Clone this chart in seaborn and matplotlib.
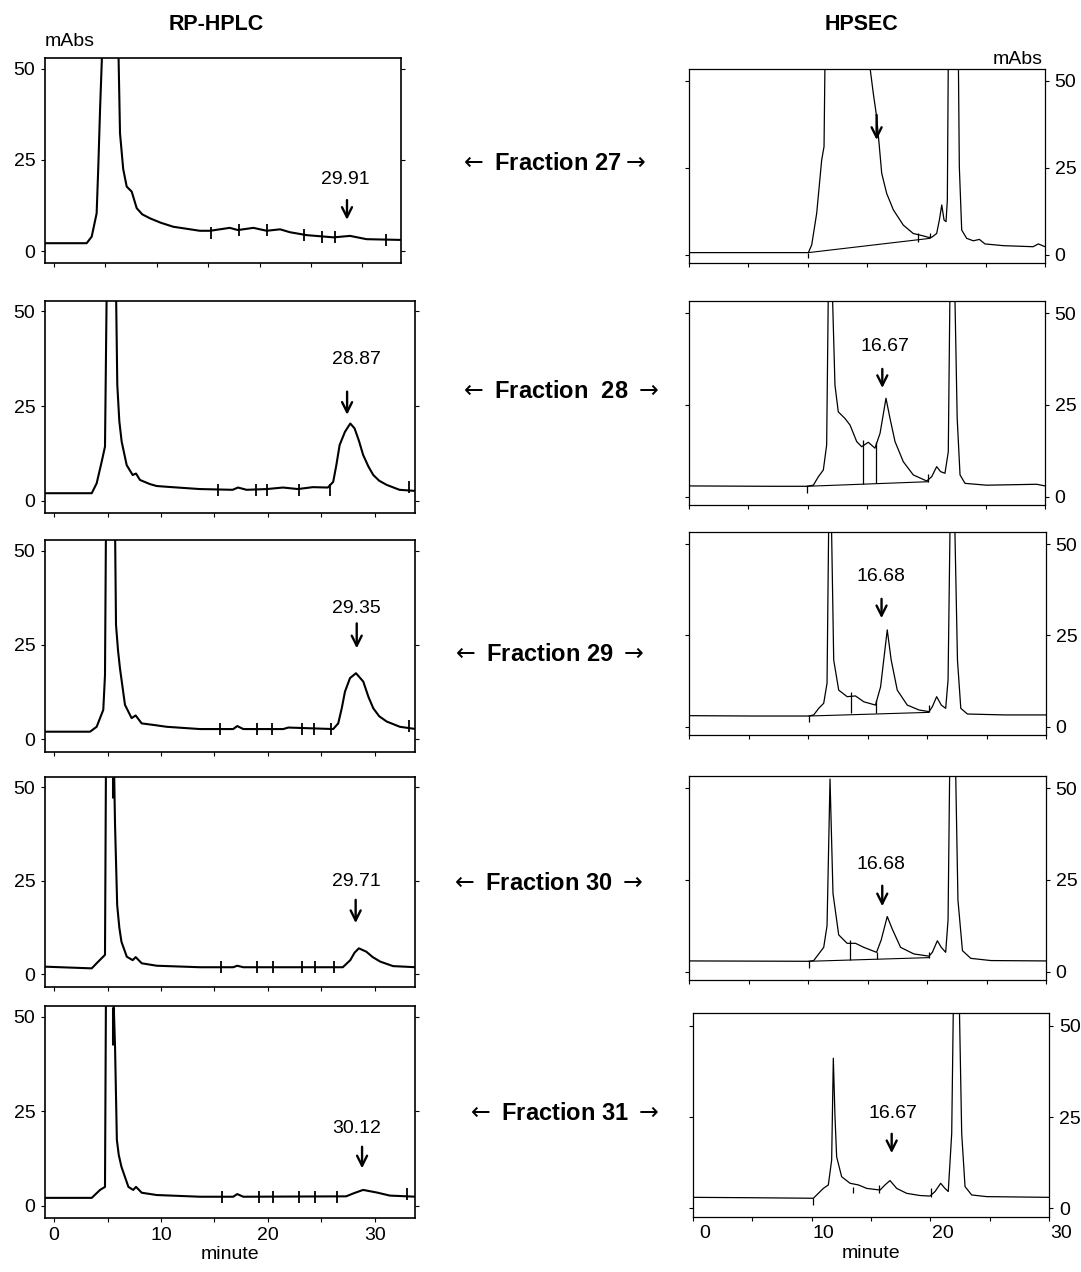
import matplotlib
matplotlib.use("Agg")
import matplotlib.pyplot as plt
import matplotlib.transforms as mtransforms
import seaborn as sns

# RP-HPLC chromatograms (minute, mAbs); 56 = off scale
rp27_t = [-0.85, 3.2, 3.69, 4.17, 4.33, 4.5, 4.72, 6.28, 6.44, 6.75, 7.09, 7.58, 8.06, 8.6, 9.36,
          10.4, 11.62, 14.2, 15.2, 17.1, 17.9, 19.4, 20.7, 22.0, 22.96, 24.6, 27.2, 28.8, 30.4, 33.7]
rp27_y = [2.2, 2.2, 4.0, 10.4, 23.1, 38.7, 56, 56, 32.3, 22.5, 17.7, 16.3, 11.8, 10.1, 9.0,
          7.8, 6.7, 5.6, 5.6, 6.4, 5.8, 6.4, 5.6, 6.0, 5.2, 4.4, 3.8, 4.2, 3.3, 3.1]
rp28_t = [-0.85, 3.52, 3.98, 4.45, 4.76, 4.92, 5.79, 5.91, 6.1, 6.32, 6.79, 7.35, 7.66, 8.03, 8.97,
          9.59, 10.53, 13.6, 16.7, 17.2, 18.0, 19.9, 21.4, 22.8, 24.2, 25.6, 26.1, 26.4, 26.7, 27.2,
          27.7, 28.1, 28.5, 28.9, 29.4, 29.85, 30.4, 31.1, 32.3, 33.8]
rp28_y = [2.0, 2.0, 4.6, 10.3, 14.3, 56, 56, 30.6, 21.0, 15.6, 9.4, 6.8, 7.2, 5.5, 4.4,
          3.9, 3.7, 3.1, 2.9, 3.5, 2.9, 3.1, 3.5, 3.1, 3.6, 3.5, 5.0, 9.5, 14.7, 18.2,
          20.4, 19.1, 15.9, 12.1, 9.0, 6.8, 5.3, 4.2, 2.9, 2.6]
rp29_t = [-0.85, 3.36, 3.98, 4.6, 4.76, 4.85, 5.7, 5.79, 5.98, 6.16, 6.63, 7.25, 7.63, 8.19, 9.28,
          10.53, 13.64, 16.75, 17.13, 17.69, 21.43, 21.9, 26.1, 26.57, 26.9, 27.2, 27.67, 28.23,
          28.91, 29.4, 29.85, 30.4, 31.1, 32.34, 33.84]
rp29_y = [2.0, 2.0, 3.3, 7.8, 17.0, 56, 56, 30.3, 23.5, 18.8, 9.1, 5.6, 6.3, 4.2, 3.8,
          3.3, 2.7, 2.7, 3.5, 2.7, 2.7, 3.1, 2.7, 4.2, 8.2, 12.6, 16.2, 17.5,
          15.3, 11.2, 8.2, 6.1, 4.7, 3.3, 2.7]
rp30_t = [-0.85, 3.52, 4.13, 4.76, 4.85, 5.6, 5.7, 5.9, 6.1, 6.3, 6.8, 7.35, 7.63, 8.2, 9.6,
          13.64, 16.75, 17.13, 17.69, 27.0, 27.7, 28.1, 28.5, 29.2, 29.8, 30.5, 31.7, 33.84]
rp30_y = [2.05, 1.6, 3.4, 5.2, 56, 56, 39.9, 18.5, 12.5, 8.7, 4.7, 3.8, 4.6, 2.95, 2.3,
          1.9, 1.9, 2.3, 1.9, 1.9, 3.8, 5.8, 6.95, 6.05, 4.6, 3.4, 2.2, 1.9]
rp31_t = [-0.85, 3.52, 4.3, 4.76, 4.85, 5.54, 5.7, 5.87, 6.05, 6.3, 6.95, 7.4, 7.66, 8.2, 9.6,
          13.64, 16.75, 17.13, 17.69, 27.3, 28.1, 28.9, 30.2, 31.4, 33.84]
rp31_y = [2.1, 2.1, 4.2, 5.0, 56, 56, 42.0, 17.4, 13.4, 10.3, 5.0, 4.2, 5.0, 3.45, 2.85,
          2.4, 2.4, 3.1, 2.4, 2.5, 3.4, 4.2, 3.5, 2.7, 2.4]

# integration marks on the RP-HPLC traces
rp27_mark_t = [15.26, 18.0, 20.7, 24.3, 26.1, 27.3, 32.3]
rp27_mark_y = [5.0, 5.8, 5.8, 4.4, 4.0, 3.8, 3.2]
rp28_mark_t = [15.3, 18.9, 19.9, 22.9, 25.8, 33.2]
rp28_mark_y = [2.9, 2.9, 2.9, 2.9, 2.9, 3.6]
rp29_mark_t = [15.5, 19.0, 20.35, 23.2, 24.3, 25.9, 33.2]
rp29_mark_y = [2.7, 2.7, 2.7, 2.7, 2.7, 2.7, 3.4]
rp30_mark_t = [15.6, 19.0, 20.5, 23.2, 24.4, 26.2]
rp30_mark_y = [1.9, 1.9, 1.9, 1.9, 1.9, 1.9]
rp31_mark_t = [15.7, 19.2, 20.5, 22.9, 24.4, 26.5, 33.0]
rp31_mark_y = [2.4, 2.4, 2.4, 2.4, 2.4, 2.4, 3.2]
rp_bar_t = [None, None, None, 5.54, 5.54]
rp_bar_lo = [None, None, None, 47.0, 42.5]
rp_bar_hi = [None, None, None, 52.8, 52.6]

# HPSEC chromatograms (minute, mAbs)
sec27_t = [0, 10.06, 10.34, 10.76, 11.18, 11.38, 11.46, 15.17, 15.53, 15.81, 16.04, 16.24, 16.66,
           17.22, 18.06, 18.9, 19.75, 20.17, 20.45, 20.87, 21.1, 21.3, 21.49, 21.66, 21.77, 21.85,
           22.7, 22.78, 22.98, 23.4, 23.96, 24.47, 24.94, 26.49, 29.0, 29.44, 30]
sec27_y = [0.6, 0.6, 2.8, 11.9, 27.2, 31.1, 56, 56, 46.4, 39.7, 31.1, 23.4, 17.6,
           12.9, 8.5, 6.1, 5.4, 5.0, 5.0, 6.1, 10.0, 14.3, 10.0, 9.5, 15.7, 56,
           56, 25.3, 7.1, 4.7, 4.0, 4.4, 3.1, 2.6, 2.3, 3.1, 2.3]
sec28_t = [0, 6.83, 9.92, 10.48, 10.9, 11.32, 11.6, 11.74, 12.08, 12.3, 12.58, 13.14, 13.57, 14.13,
           14.55, 15.11, 15.67, 16.1, 16.6, 16.94, 17.36, 18.06, 18.9, 20.03, 20.45, 20.87, 21.2,
           21.57, 21.85, 21.99, 22.4, 22.6, 22.84, 23.26, 25.08, 29.3, 30]
sec28_y = [2.9, 2.8, 2.8, 3.1, 5.4, 7.25, 14.05, 56, 56, 30.4, 23.1, 21.3, 19.5, 15.0,
           13.6, 14.8, 13.2, 17.25, 26.8, 21.3, 15.0, 9.5, 5.9, 4.25, 5.4, 8.15, 6.8,
           6.35, 12.2, 56, 56, 21.3, 5.9, 3.6, 3.1, 3.35, 2.9]
sec29_t = [0, 5.42, 10.06, 10.48, 10.9, 11.32, 11.6, 11.74, 11.97, 12.16, 12.58, 13.29, 13.99, 14.69,
           15.67, 16.1, 16.66, 16.99, 17.5, 18.34, 19.33, 20.17, 20.45, 20.81, 21.2, 21.57, 21.77,
           21.94, 22.33, 22.56, 22.84, 23.4, 26.49, 30]
sec29_y = [3.0, 2.9, 2.9, 3.2, 5.0, 6.4, 11.9, 56, 56, 18.25, 10.0, 8.2, 8.4, 6.8,
           5.9, 10.9, 26.5, 18.25, 10.0, 5.9, 4.55, 4.1, 5.45, 8.2, 5.9, 5.0, 12.8,
           56, 56, 18.25, 5.0, 3.45, 3.2, 3.2]
sec30_t = [0, 10.06, 10.48, 10.9, 11.32, 11.6, 11.85, 12.1, 12.58, 13.29, 13.99, 14.69, 15.76, 16.15,
           16.66, 17.08, 17.78, 18.9, 20.17, 20.45, 20.87, 21.2, 21.57, 21.77, 21.91, 22.4, 22.6,
           22.98, 23.68, 25.37, 30]
sec30_y = [2.9, 2.8, 3.0, 4.8, 6.6, 12.5, 52.5, 21.3, 10.0, 7.7, 7.7, 6.6, 5.25, 8.6,
           15.0, 11.6, 6.6, 4.8, 4.2, 5.25, 8.4, 6.6, 5.25, 14.1, 56, 56, 19.5,
           5.7, 3.6, 3.0, 2.9]
sec31_t = [0, 4.82, 10.15, 10.57, 10.99, 11.41, 11.69, 11.83, 11.97, 12.11, 12.53, 13.24, 13.94, 14.64,
           15.76, 16.18, 16.6, 17.16, 18.0, 19.12, 19.96, 20.39, 20.86, 21.22, 21.5, 21.79, 21.93,
           22.43, 22.63, 22.91, 23.47, 24.73, 30]
sec31_y = [3.0, 2.9, 2.75, 4.1, 5.45, 6.4, 13.2, 41.1, 25.1, 14.1, 8.65, 6.85, 6.4, 5.45,
           5.0, 6.4, 7.6, 5.45, 4.1, 3.5, 3.35, 4.6, 6.85, 5.45, 4.6, 20.5, 56,
           56, 20.5, 5.95, 3.65, 3.2, 3.0]

# HPSEC integration drop lines and baselines
sec27_drop_t, sec27_drop_lo, sec27_drop_hi = [10.06, 19.33, 20.31], [-1.0, 3.7, 4.7], [0.6, 6.1, 6.1]
sec28_drop_t, sec28_drop_lo, sec28_drop_hi = [9.92, 14.64, 15.76, 20.17], [1.0, 3.35, 3.6, 4.1], [2.8, 15.4, 14.9, 6.1]
sec29_drop_t, sec29_drop_lo, sec29_drop_hi = [10.06, 13.62, 15.73, 20.17], [1.3, 3.6, 3.6, 4.1], [2.9, 9.6, 7.3, 5.9]
sec30_drop_t, sec30_drop_lo, sec30_drop_hi = [10.06, 13.57, 15.76, 20.17], [0.9, 3.1, 3.4, 3.6], [2.8, 8.6, 5.3, 5.4]
sec31_drop_t, sec31_drop_lo, sec31_drop_hi = [10.15, 13.5, 15.7, 20.02], [0.9, 4.1, 4.1, 3.2], [2.75, 5.75, 6.4, 5.5]
sec_base_t = [[10.06, 20.31], [9.92, 20.17], [10.06, 20.17], [10.06, 20.17], None]
sec_base_y = [[0.6, 4.7], [2.8, 4.05], [2.9, 3.9], [2.8, 3.8], None]

# labels
fraction_text = [r"$\leftarrow$ Fraction 27$\rightarrow$", r"$\leftarrow$ Fraction  28 $\rightarrow$",
                 r"$\leftarrow$ Fraction 29 $\rightarrow$", r"$\leftarrow$ Fraction 30 $\rightarrow$",
                 r"$\leftarrow$ Fraction 31 $\rightarrow$"]
rp_peak = ["29.91", "28.87", "29.35", "29.71", "30.12"]
rp_peak_t = [28.3, 28.3, 28.3, 28.3, 28.3]
rp_peak_y = [19.5, 37.2, 34.7, 24.75, 20.5]
rp_arrow_t = [28.5, 27.4, 28.3, 28.2, 28.8]
rp_arrow_top = [14.0, 28.8, 30.7, 19.9, 15.6]
rp_arrow_tip = [8.6, 22.7, 24.1, 13.7, 9.9]
sec_peak = [None, "16.67", "16.68", "16.68", "16.67"]
sec_peak_t = [None, 16.52, 16.1, 16.1, 16.88]
sec_peak_y = [None, 40.9, 41.1, 29.1, 26.0]
sec_arrow_t = [15.81, 16.29, 16.18, 16.24, 16.74]
sec_arrow_top = [40.2, 34.8, 35.0, 23.4, 20.4]
sec_arrow_tip = [33.0, 29.6, 29.7, 17.8, 15.1]

rp_t = [rp27_t, rp28_t, rp29_t, rp30_t, rp31_t]
rp_y = [rp27_y, rp28_y, rp29_y, rp30_y, rp31_y]
rp_mark_t = [rp27_mark_t, rp28_mark_t, rp29_mark_t, rp30_mark_t, rp31_mark_t]
rp_mark_y = [rp27_mark_y, rp28_mark_y, rp29_mark_y, rp30_mark_y, rp31_mark_y]
sec_t = [sec27_t, sec28_t, sec29_t, sec30_t, sec31_t]
sec_y = [sec27_y, sec28_y, sec29_y, sec30_y, sec31_y]
sec_drops = [(sec27_drop_t, sec27_drop_lo, sec27_drop_hi), (sec28_drop_t, sec28_drop_lo, sec28_drop_hi),
             (sec29_drop_t, sec29_drop_lo, sec29_drop_hi), (sec30_drop_t, sec30_drop_lo, sec30_drop_hi),
             (sec31_drop_t, sec31_drop_lo, sec31_drop_hi)]

# panel frames in pixels: left, right, top, bottom
rp_frames = [(45, 401, 58.3, 263.3), (45, 415, 300.7, 513.3), (45, 415, 540, 751.7),
             (45, 415, 776.7, 986.7), (45, 415, 1006, 1218.3)]
sec_frames = [(689, 1045, 69, 262.7), (689, 1045, 300.7, 505), (689, 1046, 531.7, 735),
              (689, 1046, 775.7, 980), (692.7, 1049.3, 1013.3, 1216.7)]
frac_xy = [(552, 164), (559, 391), (548, 654), (547, 884), (563, 1113)]

sns.set_theme(style="ticks")
plt.rcParams["font.family"] = ["Liberation Sans", "DejaVu Sans"]
plt.rcParams["text.color"] = "black"
plt.rcParams["axes.labelcolor"] = "black"
plt.rcParams["xtick.color"] = "black"
plt.rcParams["ytick.color"] = "black"

W, H = 1081, 1272
fig = plt.figure(figsize=(W / 100, H / 100), dpi=100)
FS = 14


def px_axes(l, r, t, b):
    return fig.add_axes([l / W, 1 - b / H, (r - l) / W, (b - t) / H])


def style_axes(ax, xlim, ylim, right_labels, show_x, frame_lw):
    ax.set_xlim(*xlim)
    ax.set_ylim(*ylim)
    ax.set_xticks([0, 10, 20, 30])
    ax.set_xticks([5, 15, 25], minor=True)
    ax.set_yticks([0, 25, 50])
    ax.set_xlabel("")
    ax.set_ylabel("")
    ax.tick_params(axis="both", which="both", direction="out", length=3, width=0.8,
                   labelsize=FS, colors="black")
    ax.tick_params(axis="y", left=True, right=True, labelleft=not right_labels,
                   labelright=right_labels, pad=4)
    ax.tick_params(axis="x", labelbottom=show_x, pad=3)
    for s in ax.spines.values():
        s.set_linewidth(frame_lw)
        s.set_color("black")
    if show_x:
        ax.set_xlabel("minute", fontsize=FS, labelpad=2)


def peak_arrow(ax, t, top, tip):
    ax.annotate("", xy=(t, tip), xytext=(t, top),
                arrowprops=dict(arrowstyle="->", color="black", lw=1.7,
                                mutation_scale=18, shrinkA=0, shrinkB=0))


for i in range(5):
    # RP-HPLC column
    ax = px_axes(*rp_frames[i])
    sns.lineplot(x=rp_t[i], y=rp_y[i], ax=ax, color="black", linewidth=1.5,
                 estimator=None, sort=False)
    ax.plot(rp_mark_t[i], rp_mark_y[i], ls="none", marker="|", ms=9, mew=1.3, color="black")
    if rp_bar_t[i] is not None:
        ax.vlines(rp_bar_t[i], rp_bar_lo[i], rp_bar_hi[i], color="black", lw=2.2)
    ax.text(rp_peak_t[i], rp_peak_y[i], rp_peak[i], ha="center", va="center", fontsize=FS)
    peak_arrow(ax, rp_arrow_t[i], rp_arrow_top[i], rp_arrow_tip[i])
    style_axes(ax, (-0.85, 33.75), (-3.3, 52.8), False, i == 4, 1.2)

    # HPSEC column
    ax = px_axes(*sec_frames[i])
    sns.lineplot(x=sec_t[i], y=sec_y[i], ax=ax, color="black", linewidth=0.9,
                 estimator=None, sort=False)
    if sec_base_t[i] is not None:
        ax.plot(sec_base_t[i], sec_base_y[i], color="black", lw=0.8)
    dt, dlo, dhi = sec_drops[i]
    ax.vlines(dt, dlo, dhi, color="black", lw=0.9)
    if sec_peak[i] is not None:
        ax.text(sec_peak_t[i], sec_peak_y[i], sec_peak[i], ha="center", va="center", fontsize=FS)
    peak_arrow(ax, sec_arrow_t[i], sec_arrow_top[i], sec_arrow_tip[i])
    style_axes(ax, (0, 30), (-2.3, 53.4), True, i == 4, 0.9)
    if i == 4:
        shift = mtransforms.ScaledTranslation(12 / 100, 0, fig.dpi_scale_trans)
        for lbl in ax.get_xticklabels():
            lbl.set_transform(lbl.get_transform() + shift)

    fx, fy = frac_xy[i]
    fig.text(fx / W, 1 - fy / H, fraction_text[i], ha="center", va="center",
             fontsize=17, fontweight="bold")

fig.text(216 / W, 1 - 24 / H, "RP-HPLC", ha="center", va="center", fontsize=15.5, fontweight="bold")
fig.text(862 / W, 1 - 24 / H, "HPSEC", ha="center", va="center", fontsize=15.5, fontweight="bold")
fig.text(70 / W, 1 - 42 / H, "mAbs", ha="center", va="center", fontsize=FS)
fig.text(1018 / W, 1 - 59 / H, "mAbs", ha="center", va="center", fontsize=FS)

fig.savefig("out.png", dpi=100, facecolor="white")
